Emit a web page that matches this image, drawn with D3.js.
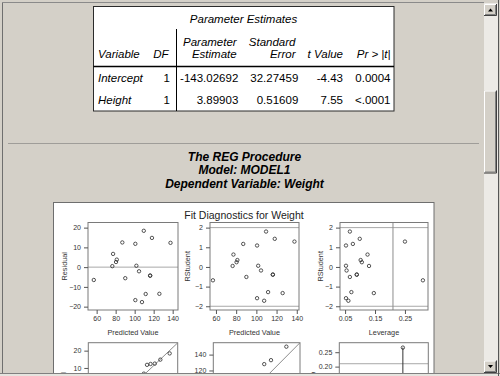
<!DOCTYPE html>
<html>
<head>
<meta charset="utf-8">
<script src="https://d3js.org/d3.v7.min.js"></script>
<style>
body { margin: 0; background: #d4d0c8; overflow: hidden; }
svg text { font-family: "Liberation Sans", Arial, sans-serif; }
</style>
</head>
<body>
<svg id="page" width="500" height="376"></svg>
<script>
// Parameter Estimates table
var paramVars = ["Intercept", "Height"];
var paramDF = ["1", "1"];
var paramEst = ["-143.02692", "3.89903"];
var paramSE = ["32.27459", "0.51609"];
var paramT = ["-4.43", "7.55"];
var paramP = ["0.0004", "<.0001"];

// fit diagnostics, one value per observation
var predicted = [126.0, 77.3, 111.6, 101.8, 104.6, 80.4, 90.1, 100.7, 100.7, 87.0, 57.0, 107.7, 76.5, 116.3, 137.7, 109.6, 118.2, 81.2, 116.3];
var residual = [-13.5, 6.7, -13.6, 0.7, -2.1, 2.6, -5.6, 11.8, -16.7, 12.5, -6.5, -17.7, 0.5, -4.3, 12.3, 18.4, 14.8, 3.8, -4.3];
var rstudent = [-1.33, 0.63, -1.28, 0.06, -0.18, 0.24, -0.51, 1.09, -1.59, 1.17, -0.68, -1.72, 0.05, -0.39, 1.29, 1.80, 1.43, 0.35, -0.39];
var leverage = [0.146, 0.125, 0.071, 0.053, 0.055, 0.106, 0.066, 0.053, 0.053, 0.076, 0.310, 0.061, 0.130, 0.089, 0.250, 0.066, 0.099, 0.102, 0.089];
var weight = [112.5, 84, 98, 102.5, 102.5, 83, 84.5, 112.5, 84, 99.5, 50.5, 90, 77, 112, 150, 128, 133, 85, 112];
var cooksD = [0.144, 0.029, 0.060, 0.0001, 0.001, 0.004, 0.010, 0.033, 0.065, 0.055, 0.109, 0.086, 0.0002, 0.008, 0.266, 0.101, 0.106, 0.007, 0.008];
var qqQuantile = [-1.846, -1.376, -1.097, -0.884, -0.706, -0.547, -0.401, -0.264, -0.130, 0, 0.130, 0.264, 0.401, 0.547, 0.706, 0.884, 1.097, 1.376, 1.846];

var VIEW_H = 376;
var svg = d3.select("#page");

// window chrome
svg.append("line").attr("x1", 2.5).attr("x2", 2.5).attr("y1", 2).attr("y2", 373).attr("stroke", "#6f6f6f");
svg.append("line").attr("x1", 2).attr("x2", 484).attr("y1", 2.5).attr("y2", 2.5).attr("stroke", "#8a8a8a");

// ---- table ----
var tbl = svg.append("g").attr("font-size", "11.5px").attr("fill", "#000");
tbl.append("rect").attr("x", 93.5).attr("y", 6.5).attr("width", 300.5).attr("height", 104.5)
  .attr("fill", "#fff").attr("stroke", "#2b2b2b");
tbl.append("line").attr("x1", 93.5).attr("x2", 394).attr("y1", 66.5).attr("y2", 66.5).attr("stroke", "#000").attr("stroke-width", 1.5);
tbl.append("line").attr("x1", 176.5).attr("x2", 176.5).attr("y1", 29).attr("y2", 111).attr("stroke", "#000");

tbl.append("text").attr("x", 243.5).attr("y", 23).attr("text-anchor", "middle")
  .attr("font-style", "italic").text("Parameter Estimates");

var headCols = [
  {x: 98, anchor: "start", lines: ["", "Variable"]},
  {x: 168.5, anchor: "end", lines: ["", "DF"]},
  {x: 236.7, anchor: "end", lines: ["Parameter", "Estimate"]},
  {x: 295.5, anchor: "end", lines: ["Standard", "Error"]},
  {x: 343, anchor: "end", lines: ["", "t Value"]},
  {x: 390.5, anchor: "end", lines: ["", "Pr > |t|"]}
];
headCols.forEach(function(c) {
  c.lines.forEach(function(l, i) {
    if (!l) return;
    tbl.append("text").attr("x", c.x).attr("y", i ? 58.3 : 45.7)
      .attr("text-anchor", c.anchor).attr("font-style", "italic").text(l);
  });
});

var rowY = [82.3, 103.5];
paramVars.forEach(function(v, i) {
  var y = rowY[i];
  tbl.append("text").attr("x", 98).attr("y", y).attr("font-style", "italic").text(v);
  tbl.append("text").attr("x", 170).attr("y", y).attr("text-anchor", "end").text(paramDF[i]);
  tbl.append("text").attr("x", 238.3).attr("y", y).attr("text-anchor", "end").text(paramEst[i]);
  tbl.append("text").attr("x", 298.3).attr("y", y).attr("text-anchor", "end").text(paramSE[i]);
  tbl.append("text").attr("x", 343).attr("y", y).attr("text-anchor", "end").text(paramT[i]);
  tbl.append("text").attr("x", 390.5).attr("y", y).attr("text-anchor", "end").text(paramP[i]);
});

// separator
svg.append("line").attr("x1", 8).attr("x2", 479).attr("y1", 143.5).attr("y2", 143.5).attr("stroke", "#9f9d99");

// procedure titles
var titles = ["The REG Procedure", "Model: MODEL1", "Dependent Variable: Weight"];
svg.selectAll(".ptitle").data(titles).enter().append("text")
  .attr("x", 244.5).attr("y", function(d, i) { return 160.5 + i * 13.6; })
  .attr("text-anchor", "middle").attr("font-size", "12px")
  .attr("font-weight", "bold").attr("font-style", "italic").text(function(d) { return d; });

// ---- graph frame ----
svg.append("rect").attr("x", 53.5).attr("y", 202.5).attr("width", 380.5).attr("height", 400)
  .attr("fill", "#fff").attr("stroke", "#6e6e6e");
svg.append("text").attr("x", 244).attr("y", 218.5).attr("text-anchor", "middle")
  .attr("font-size", "10.5px").attr("fill", "#222").text("Fit Diagnostics for Weight");

var idx = d3.range(predicted.length);
var qqRes = residual.slice().sort(d3.ascending);

var panels = [
  {x0: 88, x1: 178, y0: 222.5, y1: 310, xd: [50.9, 145.6], yd: [-21.7, 22.6],
   xt: [60, 80, 100, 120, 140], yt: [-20, -10, 0, 10, 20], xf: d3.format("d"), yf: d3.format("d"),
   xl: "Predicted Value", yl: "Residual", ylx: 64,
   pts: idx.map(function(i) { return [predicted[i], residual[i]]; }), hrefs: [0]},
  {x0: 210, x1: 299, y0: 222.5, y1: 310, xd: [54.1, 142.2], yd: [-2.19, 2.26],
   xt: [60, 80, 100, 120, 140], yt: [-2, -1, 0, 1, 2], xf: d3.format("d"), yf: d3.format("d"),
   xl: "Predicted Value", yl: "RStudent", ylx: 187,
   pts: idx.map(function(i) { return [predicted[i], rstudent[i]]; }), hrefs: [-2, 2]},
  {x0: 340, x1: 428, y0: 222.5, y1: 310, xd: [0.033, 0.327], yd: [-2.19, 2.26],
   xt: [0.05, 0.15, 0.25], yt: [-2, -1, 0, 1, 2], xf: d3.format(".2f"), yf: d3.format("d"),
   xl: "Leverage", yl: "RStudent", ylx: 320,
   pts: idx.map(function(i) { return [leverage[i], rstudent[i]]; }), hrefs: [-2, 2], vrefs: [0.21]},
  {x0: 88.3, x1: 177.7, y0: 342.7, y1: 430, xd: [-2.25, 2.25], yd: [-25.9, 24.6],
   xt: [-2, -1, 0, 1, 2], yt: [-20, -10, 0, 10, 20], xf: d3.format("d"), yf: d3.format("d"),
   xl: "Quantile", yl: "Residual", ylx: 63,
   pts: idx.map(function(i) { return [qqQuantile[i], qqRes[i]]; }), line: [[-2.25, -24.5], [2.25, 24.5]]},
  {x0: 213.3, x1: 300, y0: 342.7, y1: 430, xd: [45, 155], yd: [45, 155],
   xt: [60, 80, 100, 120, 140], yt: [60, 80, 100, 120, 140], xf: d3.format("d"), yf: d3.format("d"),
   xl: "Predicted Value", yl: "Weight", ylx: 188,
   pts: idx.map(function(i) { return [predicted[i], weight[i]]; }), line: [[45, 45], [155, 155]]},
  {x0: 339.3, x1: 428.3, y0: 342.7, y1: 430, xd: [0, 21], yd: [-0.02, 0.283],
   xt: [0, 5, 10, 15, 20], yt: [0, 0.05, 0.10, 0.15, 0.20, 0.25], xf: d3.format("d"), yf: d3.format(".2f"),
   xl: "Observation", yl: "Cook's D", ylx: 313,
   pts: idx.map(function(i) { return [i + 1, cooksD[i]]; }), needles: true, hrefs: [0.21]}
];

panels.forEach(function(p) {
  var g = svg.append("g");
  var x = d3.scaleLinear().domain(p.xd).range([p.x0, p.x1]);
  var y = d3.scaleLinear().domain(p.yd).range([p.y1, p.y0]);
  var clipId = "clip" + Math.round(p.x0) + "_" + Math.round(p.y0);
  g.append("clipPath").attr("id", clipId).append("rect")
    .attr("x", p.x0).attr("y", p.y0).attr("width", p.x1 - p.x0).attr("height", p.y1 - p.y0);
  var inner = g.append("g").attr("clip-path", "url(#" + clipId + ")");

  (p.hrefs || []).forEach(function(v) {
    inner.append("line").attr("x1", p.x0).attr("x2", p.x1).attr("y1", y(v)).attr("y2", y(v))
      .attr("stroke", "#a8a8a8").attr("stroke-width", 1);
  });
  (p.vrefs || []).forEach(function(v) {
    inner.append("line").attr("x1", x(v)).attr("x2", x(v)).attr("y1", p.y0).attr("y2", p.y1)
      .attr("stroke", "#8c8c8c");
  });
  if (p.line) {
    inner.append("line").attr("x1", x(p.line[0][0])).attr("y1", y(p.line[0][1]))
      .attr("x2", x(p.line[1][0])).attr("y2", y(p.line[1][1])).attr("stroke", "#8c8c8c");
  }
  if (p.needles) {
    inner.selectAll(".needle").data(p.pts).enter().append("line")
      .attr("x1", function(d) { return x(d[0]); }).attr("x2", function(d) { return x(d[0]); })
      .attr("y1", y(0)).attr("y2", function(d) { return y(d[1]); })
      .attr("stroke", "#333");
  }
  inner.selectAll("circle").data(p.pts).enter().append("circle")
    .attr("cx", function(d) { return x(d[0]); }).attr("cy", function(d) { return y(d[1]); })
    .attr("r", 1.7).attr("fill", "none").attr("stroke", "#2a2a2a").attr("stroke-width", 0.8);

  g.append("rect").attr("x", p.x0).attr("y", p.y0).attr("width", p.x1 - p.x0).attr("height", p.y1 - p.y0)
    .attr("fill", "none").attr("stroke", "#7a7a7a");

  // axes: the page is scrolled, so ticks below the window are simply not drawn
  var axes = [];
  if (p.y1 < VIEW_H) {
    axes.push(g.append("g").attr("transform", "translate(0," + p.y1 + ")")
      .call(d3.axisBottom(x).tickValues(p.xt).tickFormat(p.xf).tickSize(4).tickPadding(2)));
  }
  var yVisible = p.yt.filter(function(v) { return y(v) < VIEW_H - 3; });
  axes.push(g.append("g").attr("transform", "translate(" + p.x0 + ",0)")
    .call(d3.axisLeft(y).tickValues(yVisible).tickFormat(p.yf).tickSize(4).tickPadding(3)));
  axes.forEach(function(a) {
    a.select(".domain").remove();
    a.selectAll("line").attr("stroke", "#555");
    a.selectAll("text").attr("font-size", "7px").attr("fill", "#333")
      .attr("font-family", "Liberation Sans, Arial, sans-serif");
  });

  if (p.y1 + 24.5 < VIEW_H) {
    g.append("text").attr("x", (p.x0 + p.x1) / 2).attr("y", p.y1 + 24.5).attr("text-anchor", "middle")
      .attr("font-size", "7.3px").attr("fill", "#333").text(p.xl);
  }
  if ((p.y0 + p.y1) / 2 - 14 < VIEW_H) {
    g.append("text").attr("transform", "translate(" + (p.ylx + 2.5) + "," + ((p.y0 + p.y1) / 2) + ") rotate(-90)")
      .attr("text-anchor", "middle").attr("font-size", "7.3px").attr("fill", "#333").text(p.yl);
  }
});

// status strip at the bottom
svg.append("rect").attr("x", 0).attr("y", 373).attr("width", 500).attr("height", 3).attr("fill", "#e6e4df");
svg.append("line").attr("x1", 0).attr("x2", 500).attr("y1", 373.5).attr("y2", 373.5).attr("stroke", "#808080");

// ---- scrollbar ----
var sb = svg.append("g");
sb.append("rect").attr("x", 484).attr("y", 3).attr("width", 14).attr("height", 370).attr("fill", "#eceae6");
function button3d(y, h) {
  sb.append("rect").attr("x", 484).attr("y", y).attr("width", 13).attr("height", h).attr("fill", "#d4d0c8");
  sb.append("path").attr("d", "M484.5," + (y + h - 0.5) + "V" + (y + 0.5) + "H496.5").attr("fill", "none").attr("stroke", "#fff");
  sb.append("path").attr("d", "M484," + (y + h - 0.5) + "H496.5V" + y).attr("fill", "none").attr("stroke", "#404040");
  sb.append("path").attr("d", "M485," + (y + h - 1.5) + "H495.5V" + (y + 1)).attr("fill", "none").attr("stroke", "#808080");
}
button3d(4, 12);
button3d(90.5, 83);
button3d(360.5, 12.5);
sb.append("path").attr("d", "M488,11.5 L493,11.5 L490.5,8.5 Z").attr("fill", "#000");
sb.append("path").attr("d", "M488,365 L493,365 L490.5,368 Z").attr("fill", "#000");
svg.append("line").attr("x1", 498.5).attr("x2", 498.5).attr("y1", 0).attr("y2", 376).attr("stroke", "#555");
</script>
</body>
</html>
